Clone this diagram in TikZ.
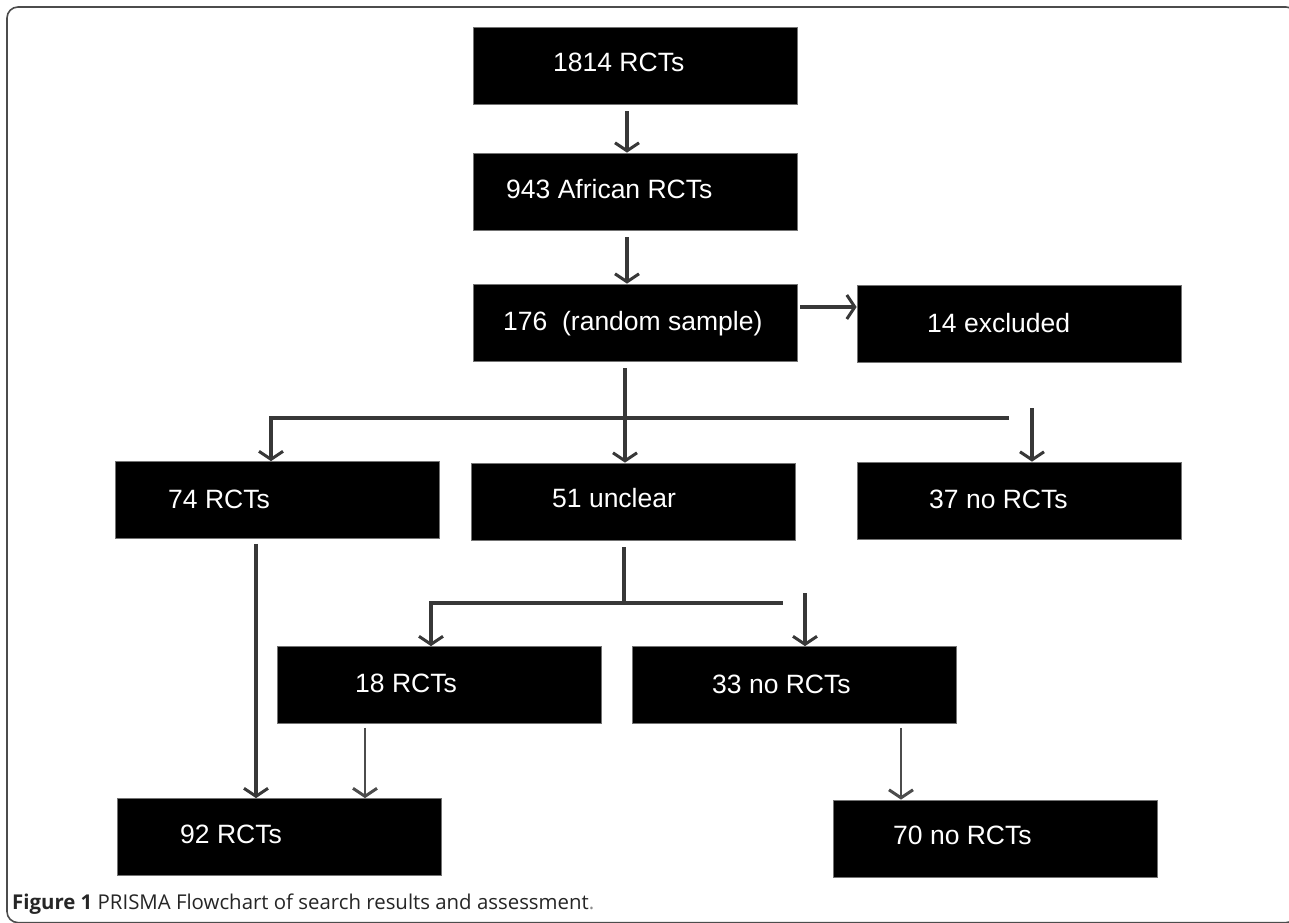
\documentclass[tikz,border=0pt]{standalone}
\usepackage{fontspec}
\usepackage{graphicx}
\setmainfont{Liberation Sans}
\newfontfamily\capfont{Open Sans}
\usetikzlibrary{arrows.meta,calc}
\begin{document}
\begin{tikzpicture}[x=1pt,y=-1pt,
  box/.style={fill=black,draw=black!55,line width=0.8pt,minimum width=324pt,minimum height=77pt,inner sep=0pt},
  lbl/.style={anchor=base west,text=white,inner sep=0pt,font=\fontsize{26.5}{30}\selectfont},
  conn/.style={draw=black!78,line width=3.5pt},
  arr/.style={conn,-{Straight Barb[length=8pt,width=24pt,line width=3pt]}},
  thinline/.style={line width=2pt,draw=black!70}]
\clip (0,0) rectangle (1289,922);
\fill[white] (0,0) rectangle (1289,922);
\draw[black!70,line width=1.6pt,rounded corners=11pt] (7,7) rectangle (1297,922.6);

% boxes
\node[box] (b1)  at (635,65.5)   {};
\node[box] (b2)  at (635,191.5)  {};
\node[box] (b3)  at (635,322.5)  {};
\node[box] (b14) at (1019,324)   {};
\node[box] (b74) at (277.5,500)  {};
\node[box] (b51) at (633.5,501.5){};
\node[box] (b37) at (1019,500.5) {};
\node[box] (b18) at (439,685)    {};
\node[box] (b33) at (794,685)    {};
\node[box] (b92) at (279,837)    {};
\node[box] (b70) at (995.5,838.5){};

% labels
\node[lbl] (t1)  at (553,71)  {1814 RCTs};
\node[lbl] (t2)  at (506,198) {943 African RCTs};
\node[lbl] (t3)  at (503,330) {176\ \ (random sample)};
\node[lbl] (t14) at (927,332) {14 excluded};
\node[lbl] (t74) at (168,508) {74 RCTs};
\node[lbl] (t51) at (552,507) {51 unclear};
\node[lbl] (t37) at (929,508) {37 no RCTs};
\node[lbl] (t18) at (355,692) {18 RCTs};
\node[lbl] (t33) at (712,693) {33 no RCTs};
\node[lbl] (t92) at (180,843) {92 RCTs};
\node[lbl] (t70) at (893,844) {70 no RCTs};

% connectors
\draw[arr,shorten <=7pt] ([xshift=-8pt]b1.south) -- ([xshift=-8pt]b2.north);
\draw[arr,shorten <=7pt] ([xshift=-8pt]b2.south) -- ([xshift=-8pt]b3.north);
\draw[arr,shorten <=3pt] ([yshift=15.5pt]b3.east) -- ([yshift=15.5pt]b3.east -| b14.west);

\coordinate (s1) at (625,418);
\coordinate (s1r) at (1009,418);
\coordinate (s1t) at (1032,408);
\draw[conn,shorten <=7pt] ([xshift=-10pt]b3.south) -- (s1);
\draw[arr] (s1) -| ([xshift=-6.5pt]b74.north);
\draw[arr] (s1) -- (s1 |- b51.north);
\draw[conn] (s1) -- (s1r);
\draw[arr] (s1t) -- (s1t |- b37.north);

\coordinate (s2) at (624,603);
\coordinate (s2r) at (783,603);
\coordinate (s2t) at (805,593);
\draw[conn,shorten <=7pt] ([xshift=-9.5pt]b51.south) -- (s2);
\draw[arr] (s2) -| ([xshift=-8pt]b18.north);
\draw[conn] (s2) -- (s2r);
\draw[arr] (s2t) -- (s2t |- b33.north);

\draw[arr,shorten <=5pt] ([xshift=-21.5pt]b74.south) -- ([xshift=-21.5pt]b74.south |- b92.north);
\draw[arr,thinline,shorten <=4pt] ([xshift=-74pt]b18.south) -- ([xshift=-74pt]b18.south |- b92.north);
\draw[arr,thinline,shorten <=4pt] ([xshift=107pt]b33.south) -- ([xshift=107pt]b33.south |- b70.north);

% caption
\node[anchor=base west,inner sep=0pt,text=black!85] (cap) at (12,909)
  {\resizebox{582pt}{!}{\capfont\textbf{Figure 1} PRISMA Flowchart of search results and assessment\textcolor{black!45}{.}}};
\end{tikzpicture}
\end{document}
